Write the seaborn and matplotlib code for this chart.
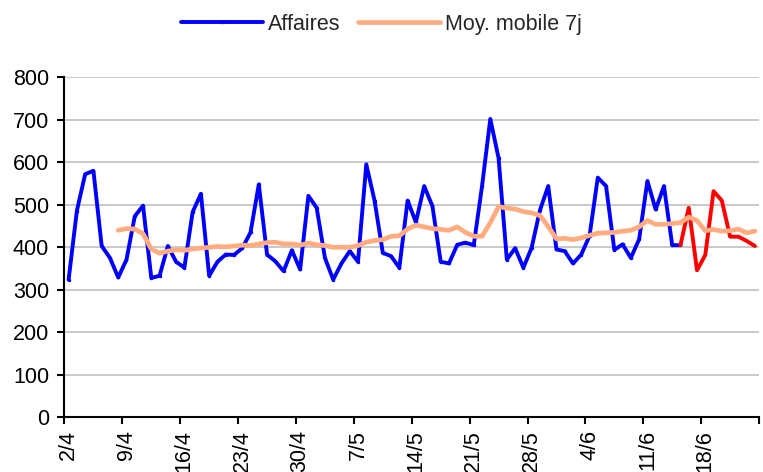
import numpy as np
import pandas as pd
import seaborn as sns
import matplotlib.pyplot as plt

# Nombre d'affaires par jour (2/4 -> 24/6)
affaires = [324, 486, 572, 580, 403, 375, 329, 371, 473, 498,
            328, 333, 403, 366, 352, 483, 526, 333, 366, 383,
            382, 398, 435, 548, 383, 367, 344, 393, 348, 521,
            493, 375, 324, 362, 391, 366, 595, 510, 387, 379,
            352, 510, 459, 544, 497, 366, 362, 406, 411, 405,
            544, 702, 610, 371, 398, 352, 399, 487, 544, 395,
            391, 362, 383, 427, 564, 544, 394, 407, 375, 419,
            556, 489, 544, 405, 405, 493, 346, 382, 532, 510,
            425, 425, 415, 403]
# les derniers jours sont tracés en rouge
debut_rouge = 74

# Moyenne mobile 7 jours (à partir du 7e jour)
moy_mobile = [440, 444, 443, 432, 396, 386, 391, 394, 393, 396, 398, 400, 402, 401, 403,
              405, 404, 408, 411, 412, 408, 408, 405, 410, 406, 404, 400, 400, 400, 404,
              412, 416, 418, 426, 427, 443,
              452, 448, 444, 442, 440, 448, 435, 426, 426, 458, 496, 492, 490, 484, 481,
              475, 449, 420, 421, 418, 422,
              428, 433, 434, 435, 438, 440, 448, 463, 454, 454, 456, 458, 471, 463, 439,
              442, 438, 439, 443, 434, 438]

dates = pd.date_range("2012-04-02", periods=len(affaires))
etiquettes = [f"{d.day}/{d.month}" for d in dates]

x = np.arange(len(affaires))
x_mm = x[len(affaires) - len(moy_mobile):]

sns.set_theme(style="white")
plt.rcParams['font.family'] = ['Liberation Sans', 'DejaVu Sans']

fig = plt.figure(figsize=(7.63, 4.72), dpi=100)
ax = fig.add_axes([0.0845, 0.1159, 0.9103, 0.7203])

ax.yaxis.grid(True, color='#C0C0C0', linewidth=1.2)
ax.set_axisbelow(True)

sns.lineplot(x=x[:debut_rouge + 1], y=affaires[:debut_rouge + 1], ax=ax, color='#0000FF',
             linewidth=2.8, marker='o', markersize=2.5, markeredgewidth=0, label='Affaires')
sns.lineplot(x=x[debut_rouge:], y=affaires[debut_rouge:], ax=ax, color='#FF0000',
             linewidth=2.8, legend=False)
sns.lineplot(x=x_mm, y=moy_mobile, ax=ax, color='#FFAD80', linewidth=3.4,
             label='Moy. mobile 7j')

ax.set_xlim(-0.5, len(affaires) - 0.5)
ax.set_ylim(0, 800)
ax.set_yticks(range(0, 801, 100))
ax.set_xticks(x[::7])
ax.set_xticklabels(etiquettes[::7], rotation=90)
ax.set_xticks(np.arange(-0.5, len(affaires), 7), minor=True)
ax.tick_params(axis='x', which='major', length=0, pad=9, labelsize=15.5, colors='black')
ax.tick_params(axis='x', which='minor', length=5, width=1.5, direction='out', bottom=True, color='black')
ax.tick_params(axis='y', length=5, width=1.5, direction='out', left=True, pad=6, labelsize=15.5, colors='black')

for s in ['top', 'right']:
    ax.spines[s].set_visible(False)
for s in ['left', 'bottom']:
    ax.spines[s].set_color('black')
    ax.spines[s].set_linewidth(1.5)

ax.set_xlabel('')
ax.set_ylabel('')
ax.legend_.remove()
handles, labels = ax.get_legend_handles_labels()
fig.legend(handles, labels, loc='upper center', bbox_to_anchor=(0.5, 1.012), ncol=2,
           frameon=False, fontsize=15.5, handlelength=3.8, handletextpad=0.25,
           columnspacing=0.8)

fig.savefig('out.png', dpi=100)
